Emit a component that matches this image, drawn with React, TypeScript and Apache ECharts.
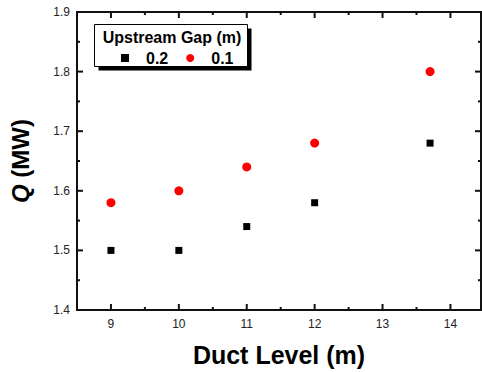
import React, { useEffect, useRef } from "react";
import * as echarts from "echarts";

const gap02X = [9, 10, 11, 12, 13.7];
const gap02Q = [1.5, 1.5, 1.54, 1.58, 1.68];
const gap01X = [9, 10, 11, 12, 13.7];
const gap01Q = [1.58, 1.6, 1.64, 1.68, 1.8];
const xMajorTicks = [9, 10, 11, 12, 13, 14];
const xMinorTicks = [8.5, 9.5, 10.5, 11.5, 12.5, 13.5];
const yMajorTicks = [1.4, 1.5, 1.6, 1.7, 1.8, 1.9];
const yMinorTicks = [1.45, 1.55, 1.65, 1.75, 1.85];
const seriesNames = ["0.2", "0.1"];
const legendTitle = "Upstream Gap (m)";

const FONT = "'Liberation Sans', Arial, sans-serif";

export default function App() {
  const ref = useRef<HTMLDivElement>(null);
  useEffect(() => {
    const chart = echarts.init(ref.current!, null, { renderer: "svg" });
    const xMin = 8.5;
    const xMax = 14.45;
    const yMin = 1.4;
    const yMax = 1.9;
    const tickStroke = { stroke: "#111", lineWidth: 2 };
    const xTickData = [
      ...xMajorTicks.map((v) => [v, yMin, 6]),
      ...xMinorTicks.map((v) => [v, yMin, 3]),
    ];
    const yTickData = [
      ...yMajorTicks.map((v) => [xMin, v, 6]),
      ...yMinorTicks.map((v) => [xMin, v, 3]),
    ];
    chart.setOption({
      animation: false,
      grid: {
        left: 75,
        right: 1,
        top: 12,
        bottom: 61,
        show: true,
        borderColor: "#111",
        borderWidth: 2,
        backgroundColor: "transparent",
      },
      legend: {
        left: 116,
        top: 45,
        z: 30,
        itemWidth: 8,
        itemHeight: 8,
        itemGap: 18,
        data: seriesNames,
        textStyle: { fontFamily: FONT, fontWeight: "bold", fontSize: 16, color: "#000", padding: [0, 0, 0, 12] },
      },
      xAxis: {
        type: "value",
        min: xMin,
        max: xMax,
        splitLine: { show: false },
        axisLine: { show: false },
        axisTick: { show: false },
        axisLabel: { show: true, margin: 8, customValues: xMajorTicks, fontFamily: FONT, fontSize: 12, color: "#222" },
        name: "Duct Level (m)",
        nameLocation: "middle",
        nameGap: 32,
        nameTextStyle: { fontFamily: FONT, fontWeight: "bold", fontSize: 25, color: "#000" },
      },
      yAxis: {
        type: "value",
        min: yMin,
        max: yMax,
        interval: 0.1,
        splitLine: { show: false },
        axisLine: { show: false },
        axisTick: { show: false },
        axisLabel: { show: true, margin: 7, fontFamily: FONT, fontSize: 12, color: "#222", formatter: (v: number) => v.toFixed(1) },
        name: "{i|Q} {b|(MW)}",
        nameLocation: "middle",
        nameGap: 45,
        nameRotate: 90,
        nameTextStyle: {
          fontFamily: FONT,
          fontWeight: "bold",
          fontSize: 24,
          color: "#000",
          rich: {
            i: { fontFamily: FONT, fontWeight: "bold", fontStyle: "italic", fontSize: 24, color: "#000" },
            b: { fontFamily: FONT, fontWeight: "bold", fontSize: 24, color: "#000" },
          },
        },
      },
      graphic: [
        { type: "rect", shape: { x: 98.5, y: 28.5, width: 153, height: 42 }, style: { fill: "#000" }, z: 10 },
        { type: "rect", shape: { x: 94.5, y: 24.5, width: 153, height: 42 }, style: { fill: "#fff", stroke: "#000", lineWidth: 1 }, z: 11 },
        {
          type: "text",
          x: 172,
          y: 37,
          style: { text: legendTitle, fontFamily: FONT, fontWeight: "bold", fontSize: 16, fill: "#000", align: "center", verticalAlign: "middle" },
          z: 12,
        },
      ],
      series: [
        {
          name: seriesNames[0],
          type: "scatter",
          symbol: "rect",
          symbolSize: 7,
          itemStyle: { color: "#000", opacity: 1 },
          data: gap02X.map((x, i) => [x, gap02Q[i]]),
        },
        {
          name: seriesNames[1],
          type: "scatter",
          symbol: "circle",
          symbolSize: 9,
          itemStyle: { color: "#ff0000", opacity: 1 },
          data: gap01X.map((x, i) => [x, gap01Q[i]]),
        },
        {
          name: "xTicks",
          type: "custom",
          silent: true,
          clip: false,
          z: 100,
          data: xTickData,
          renderItem: (_params: any, api: any) => {
            const v = api.value(0);
            const len = api.value(2);
            const b = api.coord([v, yMin]);
            const t = api.coord([v, yMax]);
            return {
              type: "group",
              children: [
                { type: "line", shape: { x1: b[0], y1: b[1], x2: b[0], y2: b[1] - len }, style: tickStroke },
                { type: "line", shape: { x1: t[0], y1: t[1], x2: t[0], y2: t[1] + len }, style: tickStroke },
              ],
            };
          },
        },
        {
          name: "yTicks",
          type: "custom",
          silent: true,
          clip: false,
          z: 100,
          data: yTickData,
          renderItem: (_params: any, api: any) => {
            const v = api.value(1);
            const len = api.value(2);
            const l = api.coord([xMin, v]);
            const r = api.coord([xMax, v]);
            return {
              type: "group",
              children: [
                { type: "line", shape: { x1: l[0], y1: l[1], x2: l[0] + len, y2: l[1] }, style: tickStroke },
                { type: "line", shape: { x1: r[0], y1: r[1], x2: r[0] - len, y2: r[1] }, style: tickStroke },
              ],
            };
          },
        },
      ],
    });
    return () => chart.dispose();
  }, []);
  return <div ref={ref} style={{ width: 482, height: 372, position: "absolute", left: 0, top: 0 }} />;
}
